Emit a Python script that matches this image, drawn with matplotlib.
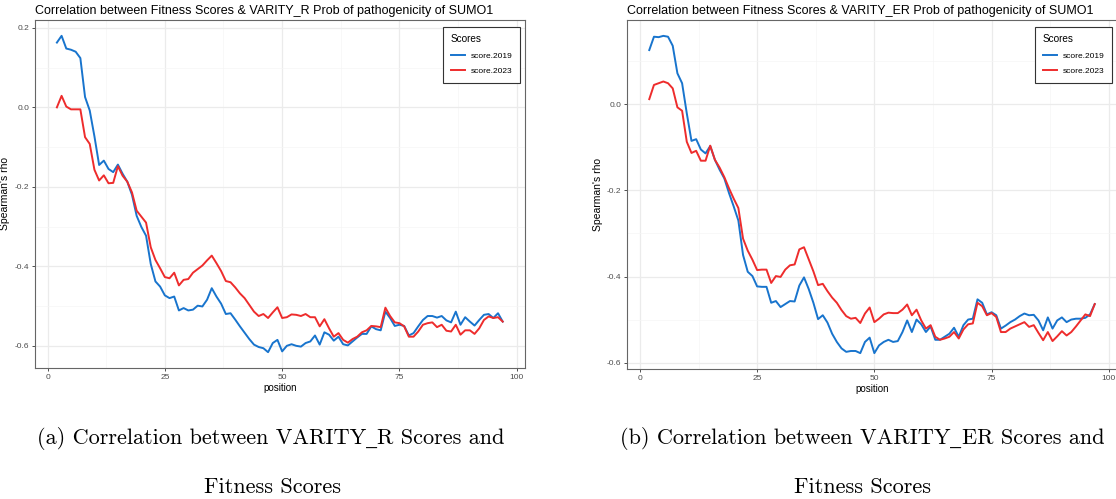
import matplotlib
matplotlib.use('Agg')
import matplotlib.pyplot as plt
from matplotlib.ticker import MultipleLocator
from matplotlib.offsetbox import TextArea, HPacker, AnnotationBbox

plt.rcParams['font.family'] = ['Liberation Sans', 'DejaVu Sans']
plt.rcParams['axes.unicode_minus'] = False

position = list(range(2, 98))

# VARITY_R correlation per position
varity_r_2019 = [
    0.163, 0.180, 0.148, 0.145, 0.140, 0.124, 0.026, -0.008, -0.073, -0.145,
    -0.134, -0.155, -0.163, -0.144, -0.167, -0.187, -0.220, -0.273, -0.301, -0.323,
    -0.394, -0.438, -0.451, -0.473, -0.480, -0.476, -0.511, -0.505, -0.511, -0.509,
    -0.499, -0.501, -0.484, -0.455, -0.476, -0.494, -0.520, -0.518, -0.534, -0.551,
    -0.567, -0.583, -0.597, -0.603, -0.606, -0.616, -0.593, -0.585, -0.614, -0.600,
    -0.596, -0.600, -0.602, -0.593, -0.589, -0.574, -0.597, -0.566, -0.572, -0.587,
    -0.577, -0.596, -0.599, -0.589, -0.579, -0.570, -0.570, -0.551, -0.558, -0.561,
    -0.514, -0.530, -0.550, -0.547, -0.550, -0.574, -0.568, -0.551, -0.535, -0.525,
    -0.525, -0.529, -0.525, -0.536, -0.541, -0.514, -0.547, -0.528, -0.539, -0.549,
    -0.535, -0.522, -0.520, -0.530, -0.518, -0.539,
]
varity_r_2023 = [
    0.000, 0.029, 0.002, -0.005, -0.005, -0.005, -0.075, -0.092, -0.157, -0.184,
    -0.171, -0.191, -0.190, -0.148, -0.172, -0.187, -0.214, -0.260, -0.275, -0.290,
    -0.352, -0.384, -0.405, -0.427, -0.430, -0.416, -0.448, -0.434, -0.432, -0.416,
    -0.407, -0.398, -0.385, -0.373, -0.392, -0.412, -0.437, -0.440, -0.453, -0.468,
    -0.480, -0.497, -0.514, -0.525, -0.520, -0.530, -0.516, -0.503, -0.530, -0.528,
    -0.521, -0.522, -0.525, -0.520, -0.528, -0.528, -0.551, -0.533, -0.556, -0.577,
    -0.568, -0.585, -0.592, -0.583, -0.577, -0.566, -0.561, -0.550, -0.551, -0.553,
    -0.504, -0.525, -0.541, -0.543, -0.551, -0.577, -0.577, -0.564, -0.547, -0.543,
    -0.541, -0.553, -0.547, -0.562, -0.564, -0.547, -0.572, -0.561, -0.561, -0.570,
    -0.556, -0.535, -0.526, -0.530, -0.528, -0.539,
]

# VARITY_ER correlation per position
varity_er_2019 = [
    0.126, 0.157, 0.156, 0.159, 0.157, 0.136, 0.072, 0.049, -0.021, -0.085,
    -0.081, -0.105, -0.114, -0.097, -0.129, -0.152, -0.172, -0.206, -0.237, -0.270,
    -0.350, -0.389, -0.399, -0.423, -0.424, -0.424, -0.461, -0.457, -0.471, -0.464,
    -0.457, -0.458, -0.421, -0.402, -0.429, -0.461, -0.499, -0.490, -0.507, -0.533,
    -0.552, -0.567, -0.575, -0.573, -0.573, -0.578, -0.552, -0.542, -0.578, -0.560,
    -0.552, -0.547, -0.552, -0.550, -0.529, -0.502, -0.529, -0.500, -0.511, -0.529,
    -0.516, -0.547, -0.547, -0.540, -0.533, -0.519, -0.540, -0.513, -0.500, -0.498,
    -0.453, -0.461, -0.488, -0.483, -0.490, -0.521, -0.514, -0.506, -0.500, -0.492,
    -0.486, -0.490, -0.489, -0.502, -0.525, -0.495, -0.521, -0.502, -0.495, -0.506,
    -0.500, -0.498, -0.498, -0.496, -0.488, -0.464,
]
varity_er_2023 = [
    0.012, 0.045, 0.049, 0.053, 0.049, 0.037, -0.007, -0.015, -0.087, -0.113,
    -0.108, -0.131, -0.131, -0.096, -0.129, -0.147, -0.169, -0.195, -0.219, -0.241,
    -0.312, -0.340, -0.361, -0.385, -0.384, -0.384, -0.415, -0.399, -0.401, -0.384,
    -0.374, -0.372, -0.337, -0.332, -0.360, -0.388, -0.420, -0.417, -0.434, -0.449,
    -0.461, -0.478, -0.492, -0.498, -0.496, -0.508, -0.486, -0.472, -0.506, -0.498,
    -0.488, -0.484, -0.485, -0.485, -0.477, -0.465, -0.490, -0.477, -0.502, -0.521,
    -0.513, -0.540, -0.547, -0.544, -0.540, -0.529, -0.544, -0.523, -0.511, -0.509,
    -0.461, -0.469, -0.490, -0.485, -0.494, -0.529, -0.529, -0.521, -0.516, -0.511,
    -0.506, -0.517, -0.513, -0.531, -0.548, -0.529, -0.550, -0.539, -0.527, -0.537,
    -0.529, -0.516, -0.502, -0.488, -0.492, -0.464,
]

W, H = 1116, 499
fig = plt.figure(figsize=(W / 100, H / 100), dpi=100)

CAPTION_SIZE = 16.0


def caption(x, y, parts):
    # cmr10 has no underscore glyph, so that piece is set in a serif fallback
    boxes = []
    for txt in parts:
        fam = 'DejaVu Serif' if txt == '_' else 'cmr10'
        boxes.append(TextArea(txt, textprops=dict(family=fam, fontsize=CAPTION_SIZE)))
    pack = HPacker(children=boxes, align='baseline', pad=0, sep=0)
    ab = AnnotationBbox(pack, (x / W, 1 - y / H), xycoords='figure fraction',
                        frameon=False, box_alignment=(0.5, 0.5), pad=0)
    fig.add_artist(ab)


def panel(left, top, right, bottom, s2019, s2023, title):
    ax = fig.add_axes([left / W, 1 - bottom / H, (right - left) / W, (bottom - top) / H])
    ax.plot(position, s2019, color='#1874CD', lw=1.4, label='score.2019')
    ax.plot(position, s2023, color='#EE2C2C', lw=1.4, label='score.2023')
    ax.set_xlim(-2.75, 101.75)
    ax.margins(y=0.05)
    ax.xaxis.set_major_locator(MultipleLocator(25))
    ax.xaxis.set_minor_locator(MultipleLocator(12.5))
    ax.yaxis.set_major_locator(MultipleLocator(0.2))
    ax.yaxis.set_minor_locator(MultipleLocator(0.1))
    ax.yaxis.set_major_formatter(lambda v, _: f'{v:.1f}')
    ax.grid(which='major', color='#EBEBEB', lw=0.9)
    ax.grid(which='minor', color='#F5F5F5', lw=0.5)
    ax.set_axisbelow(True)
    for sp in ax.spines.values():
        sp.set_color('#666666')
        sp.set_linewidth(0.8)
    ax.tick_params(which='major', length=2.5, width=0.6, color='#333333',
                   labelsize=6, labelcolor='#4D4D4D', pad=1.5)
    ax.tick_params(which='minor', length=0)
    ax.set_xlabel('position', fontsize=7, labelpad=2)
    ax.set_ylabel("Spearman's rho", fontsize=7.5, labelpad=3)
    ax.set_title(title, loc='left', fontsize=9, pad=4)
    leg = ax.legend(title='Scores', loc='upper right', bbox_to_anchor=(0.99, 0.98),
                    borderaxespad=0, fontsize=6, title_fontsize=7.2, fancybox=False,
                    framealpha=1, edgecolor='#333333', alignment='left',
                    handlelength=1.7, handletextpad=0.7, borderpad=0.9,
                    labelspacing=0.9)
    leg.get_frame().set_linewidth(0.8)
    return ax


panel(34.6, 20, 525, 368, varity_r_2019, varity_r_2023,
      'Correlation between Fitness Scores & VARITY_R Prob of pathogenicity of SUMO1')
panel(627, 20, 1117, 369, varity_er_2019, varity_er_2023,
      'Correlation between Fitness Scores & VARITY_ER Prob of pathogenicity of SUMO1')

caption(271, 438, ['(a) Correlation between VARITY', '_', 'R Scores and'])
caption(273, 487, ['Fitness Scores'])
caption(862, 438, ['(b) Correlation between VARITY', '_', 'ER Scores and'])
caption(862, 487, ['Fitness Scores'])

fig.savefig('out.png', dpi=100)
